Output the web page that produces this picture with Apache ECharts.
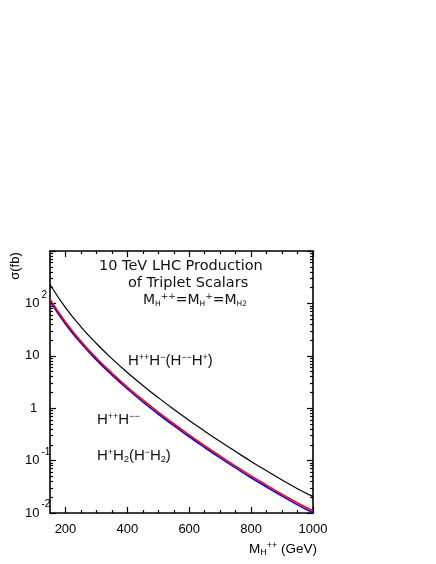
<!DOCTYPE html>
<html>
<head>
<meta charset="utf-8">
<script src="https://cdn.jsdelivr.net/npm/echarts@6/dist/echarts.min.js"></script>
<style>
html,body{margin:0;padding:0;background:#fff;}
#chart{width:436px;height:564px;}
</style>
</head>
<body>
<div id="chart"></div>
<script>
// ---- data ----
var masses = [150, 200, 250, 300, 350, 400, 450, 500, 550, 600, 650, 700, 750, 800, 850, 900, 950, 1000];
var sigmaHppHm = [229, 83.2, 35.8, 17.2, 8.83, 4.80, 2.72, 1.59, 0.953, 0.584, 0.365, 0.231, 0.149, 0.0966, 0.0640, 0.0428, 0.0290, 0.0205];
var sigmaHppHmm = [121, 44.1, 19.0, 9.09, 4.68, 2.54, 1.44, 0.842, 0.505, 0.310, 0.193, 0.1225, 0.0787, 0.0512, 0.0340, 0.0228, 0.0155, 0.0110];
var sigmaHpH2 = [111, 40.6, 17.5, 8.36, 4.31, 2.34, 1.32, 0.775, 0.465, 0.285, 0.178, 0.1127, 0.0724, 0.0471, 0.0313, 0.0210, 0.0143, 0.0101];

// ---- ticks ----
var xMajorTicks = [200, 400, 600, 800, 1000];
var xMinorTicks = [250, 300, 350, 450, 500, 550, 650, 700, 750, 850, 900, 950];
var yLabelTicks = [0.01, 0.1, 1, 10, 100];
var yMajorTicks = [0.01, 0.1, 1, 10, 100, 1000];
var yMinorMult = [2, 3, 4, 5, 6, 7, 8, 9];
var yDecades = [0.01, 0.1, 1, 10, 100];

var yMinorTicks = [];
yDecades.forEach(function (d) { yMinorMult.forEach(function (m) { yMinorTicks.push(+(d * m).toPrecision(3)); }); });

function pairs(ys) { return masses.map(function (m, i) { return [m, ys[i]]; }); }

var FONT = 'Liberation Sans';
var TFONT = 'DejaVu Sans';

function yFmt(v) {
  var e = Math.round(Math.log10(v));
  if (e === 0) return '{one|1}';
  if (e === 1) return '{b|10}';
  return '{b|10}{s|' + (e < 0 ? '-' + (-e) : e) + '}';
}

function xAxisBase(pos, ticks, len, showLine, showLabel) {
  return {
    type: 'value', min: 150, max: 1000, position: pos, gridIndex: 0,
    splitLine: {show: false},
    axisLine: {show: showLine, onZero: false, lineStyle: {color: '#000', width: 1.6}},
    axisTick: {show: true, inside: true, length: len, customValues: ticks, lineStyle: {color: '#000', width: 1.2}},
    axisLabel: showLabel ? {show: true, customValues: xMajorTicks, margin: 10, fontSize: 13, fontFamily: FONT, color: '#000',
      formatter: function (v) { return String(Math.round(v)); }} : {show: false}
  };
}
function yAxisBase(pos, ticks, len, showLine, showLabel) {
  return {
    type: 'log', logBase: 10, min: 0.01, max: 1000, position: pos, gridIndex: 0,
    splitLine: {show: false},
    axisLine: {show: showLine, onZero: false, lineStyle: {color: '#000', width: 1.6}},
    axisTick: {show: true, inside: true, length: len, customValues: ticks, lineStyle: {color: '#000', width: 1.2}},
    axisLabel: showLabel ? {
      show: true, customValues: yLabelTicks, align: 'left', margin: 25, formatter: yFmt,
      rich: {
        b: {fontSize: 13, fontFamily: FONT, color: '#000', lineHeight: 27, verticalAlign: 'middle'},
        one: {fontSize: 13, fontFamily: FONT, color: '#000', lineHeight: 27, verticalAlign: 'middle', padding: [0, 0, 0, 5]},
        s: {fontSize: 10, fontFamily: FONT, color: '#000', verticalAlign: 'top', lineHeight: 10, padding: [0, 0, 0, 2]}
      }
    } : {show: false}
  };
}

function richLabel(size, font, color) {
  return {
    m: {fontSize: size, fontFamily: font, fill: color, lineHeight: 16, verticalAlign: 'middle'},
    sup: {fontSize: 9, fontFamily: font, fill: color, verticalAlign: 'top', lineHeight: 7},
    sub: {fontSize: 9, fontFamily: font, fill: color, verticalAlign: 'bottom', lineHeight: 7}
  };
}

var option = {
  animation: false,
  backgroundColor: '#fff',
  grid: {left: 50, top: 251, right: 123, bottom: 51, containLabel: false},
  xAxis: [
    xAxisBase('bottom', xMajorTicks, 6, true, true),
    xAxisBase('bottom', xMinorTicks, 3, false, false),
    xAxisBase('top', xMajorTicks, 6, true, false),
    xAxisBase('top', xMinorTicks, 3, false, false)
  ],
  yAxis: [
    yAxisBase('left', yMajorTicks, 6, true, true),
    yAxisBase('left', yMinorTicks, 3, false, false),
    yAxisBase('right', yMajorTicks, 6, true, false),
    yAxisBase('right', yMinorTicks, 3, false, false)
  ],
  series: [
    {type: 'line', name: 'H++H- (H--H+)', data: pairs(sigmaHppHm), smooth: true, symbol: 'none', xAxisIndex: 0, yAxisIndex: 0, lineStyle: {color: '#000', width: 1.2}},
    {type: 'line', name: 'H+H2 (H-H2)', data: pairs(sigmaHpH2), smooth: true, symbol: 'none', xAxisIndex: 0, yAxisIndex: 0, lineStyle: {color: '#0000ff', width: 1.6}},
    {type: 'line', name: 'H++H--', data: pairs(sigmaHppHmm), smooth: true, symbol: 'none', xAxisIndex: 0, yAxisIndex: 0, lineStyle: {color: '#ff0000', width: 1.6}}
  ],
  graphic: [
    {type: 'text', left: 99, top: 259, style: {text: '10 TeV LHC Production', font: '14.5px "' + TFONT + '"', fill: '#111'}},
    {type: 'text', left: 128, top: 276, style: {text: 'of Triplet Scalars', font: '14.5px "' + TFONT + '"', fill: '#111'}},
    {type: 'text', left: 143, top: 292, style: {
      text: '{m|M}{sub|H}{sup|++}{m|=M}{sub|H}{sup|+}{m|=M}{sub|H2}',
      rich: {
        m: {fontSize: 14, fontFamily: TFONT, fill: '#111', lineHeight: 16, verticalAlign: 'middle'},
        sub: {fontSize: 7.5, fontFamily: TFONT, fill: '#111', verticalAlign: 'bottom', lineHeight: 7},
        sup: {fontSize: 9, fontFamily: TFONT, fill: '#111', verticalAlign: 'top', lineHeight: 7}
      }
    }},
    {type: 'text', left: 128, top: 353, style: {
      text: '{m|H}{sup|++}{m|H}{sup|−}{m|(H}{sup|−−}{m|H}{sup|+}{m|)}',
      rich: richLabel(15, FONT, '#111')
    }},
    {type: 'text', left: 97, top: 412, style: {
      text: '{m|H}{sup|++}{m|H}{sup|−−}',
      rich: richLabel(15, FONT, '#111')
    }},
    {type: 'text', left: 97, top: 448, style: {
      text: '{m|H}{sup|+}{m|H}{sub|2}{m|(H}{sup|−}{m|H}{sub|2}{m|)}',
      rich: richLabel(15, FONT, '#111')
    }},
    {type: 'text', left: 249, top: 541, style: {
      text: '{m|M}{sub|H}{sup|++}{m| (GeV)}',
      rich: richLabel(13.5, FONT, '#000')
    }},
    {type: 'text', x: 15, y: 266, rotation: Math.PI / 2, style: {text: 'σ(fb)', font: '13px "' + FONT + '"', fill: '#000', align: 'center', verticalAlign: 'middle'}}
  ]
};

var chart = echarts.init(document.getElementById('chart'), null, {renderer: 'canvas'});
chart.setOption(option);
</script>
</body>
</html>
